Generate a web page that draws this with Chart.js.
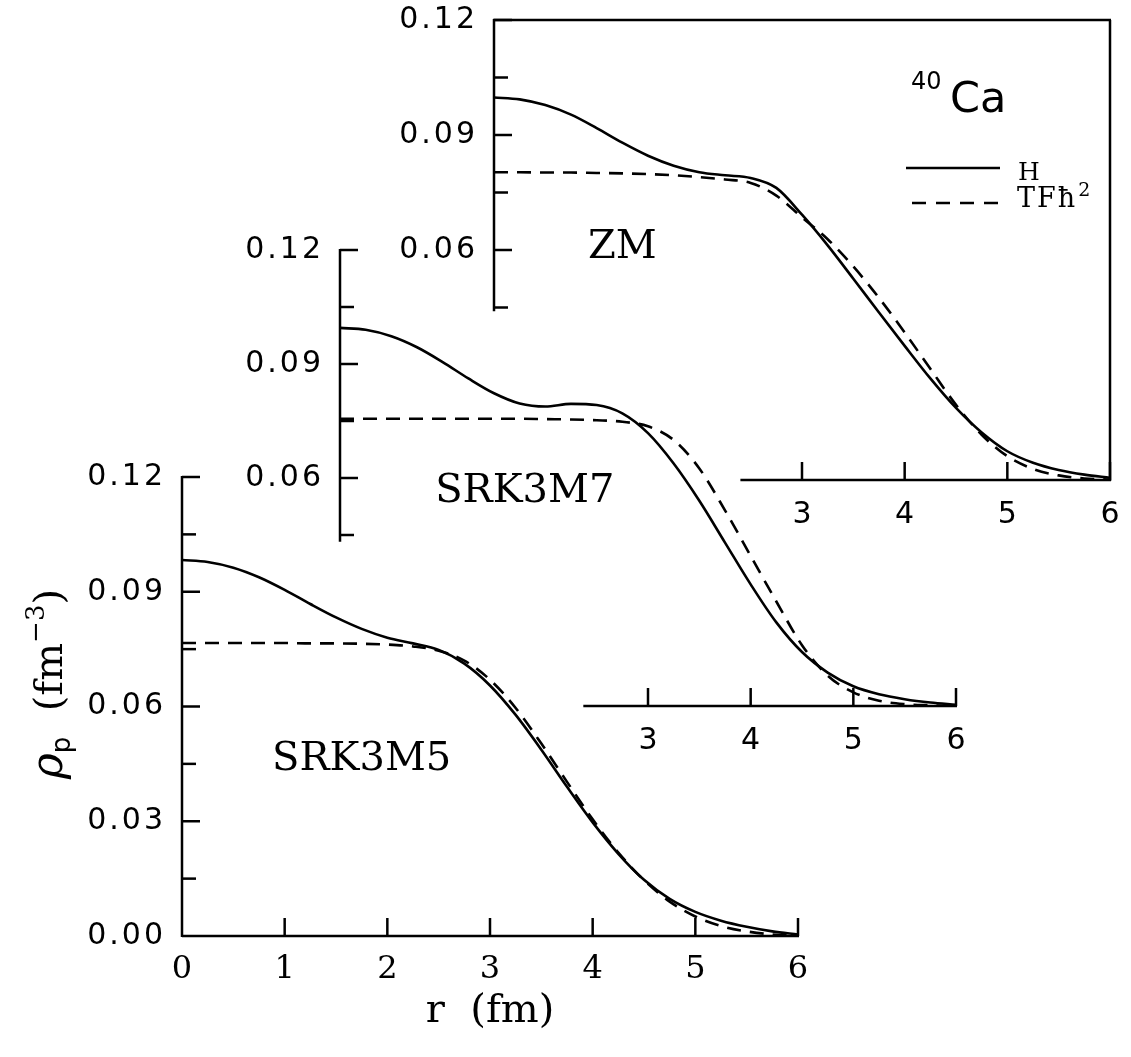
<!DOCTYPE html>
<html>
<head>
<meta charset="utf-8">
<script src="https://cdn.jsdelivr.net/npm/chart.js@4"></script>
<style>
  body { margin: 0; background: #fff; }
  #wrap { position: relative; width: 1131px; height: 1057px; }
  canvas { position: absolute; left: 0; top: 0; }
</style>
</head>
<body>
<div id="wrap">
  <canvas id="pBottom" width="1131" height="1057"></canvas>
  <canvas id="pMiddle" width="1131" height="1057"></canvas>
  <canvas id="pTop" width="1131" height="1057"></canvas>
</div>
<script>
// radius grid (fm)
const radius = [0, 0.25, 0.5, 0.75, 1, 1.25, 1.5, 1.75, 2, 2.25, 2.5, 2.75, 3,
                3.25, 3.5, 3.75, 4, 4.25, 4.5, 4.75, 5, 5.25, 5.5, 5.75, 6];

// SRK3M5 (bottom panel)
const m5H  = [0.0983, 0.0978, 0.0963, 0.0938, 0.0905, 0.0868, 0.0833, 0.0803, 0.0780, 0.0765, 0.0748, 0.0712, 0.0655,
              0.0578, 0.0487, 0.0390, 0.0297, 0.0215, 0.0147, 0.0097, 0.0063, 0.0040, 0.0024, 0.0012, 0.0004];
const m5TF = [0.0766, 0.0766, 0.0766, 0.0766, 0.0766, 0.0765, 0.0765, 0.0764, 0.0762, 0.0757, 0.0746, 0.0720, 0.0670,
              0.0596, 0.0503, 0.0403, 0.0305, 0.0218, 0.0146, 0.0090, 0.0051, 0.0026, 0.0012, 0.0004, 0.0001];

// SRK3M7 (middle panel)
const m7H  = [0.0995, 0.0990, 0.0973, 0.0944, 0.0905, 0.0862, 0.0823, 0.0796, 0.0788, 0.0795, 0.0792, 0.0770, 0.0718,
              0.0638, 0.0540, 0.0430, 0.0320, 0.0220, 0.0142, 0.0088, 0.0052, 0.0031, 0.0018, 0.0009, 0.0003];
const m7TF = [0.0756, 0.0756, 0.0756, 0.0756, 0.0756, 0.0756, 0.0756, 0.0756, 0.0755, 0.0754, 0.0752, 0.0748, 0.0736,
              0.0700, 0.0625, 0.0515, 0.0395, 0.0275, 0.0160, 0.0080, 0.0036, 0.0014, 0.0005, 0.0002, 0.0000];

// ZM (top panel)
const zmH  = [0.0998, 0.0993, 0.0978, 0.0953, 0.0918, 0.0880, 0.0846, 0.0820, 0.0803, 0.0795, 0.0788, 0.0762, 0.0692,
              0.0612, 0.0525, 0.0437, 0.0350, 0.0265, 0.0188, 0.0124, 0.0075, 0.0045, 0.0026, 0.0014, 0.0006];
const zmTF = [0.0803, 0.0803, 0.0802, 0.0802, 0.0801, 0.0800, 0.0798, 0.0795, 0.0790, 0.0784, 0.0775, 0.0742, 0.0685,
              0.0628, 0.0557, 0.0475, 0.0385, 0.0290, 0.0196, 0.0118, 0.0062, 0.0029, 0.0012, 0.0004, 0.0001];

// tick values and labels
const yMajor = [0, 0.03, 0.06, 0.09, 0.12];
const yMajorLabels = ['0.00', '0.03', '0.06', '0.09', '0.12'];
const yMinor = [0.015, 0.045, 0.075, 0.105];
const xMajor = [0, 1, 2, 3, 4, 5, 6];
const xMajorLabels = ['0', '1', '2', '3', '4', '5', '6'];

const W = 1131, H = 1057;
const SANS = '"DejaVu Sans", sans-serif';
const SERIF = '"DejaVu Serif", serif';

// draw a row of text pieces (for sub/superscripts)
function drawRuns(ctx, x, y, runs, align) {
  let total = 0;
  runs.forEach(r => { ctx.font = r.font; ctx.letterSpacing = r.ls || '0px'; total += ctx.measureText(r.t).width + (r.gap || 0); });
  let cx = align === 'center' ? x - total / 2 : x;
  ctx.textAlign = 'left';
  ctx.textBaseline = 'alphabetic';
  runs.forEach(r => {
    ctx.font = r.font;
    ctx.letterSpacing = r.ls || '0px';
    cx += r.gap || 0;
    ctx.fillText(r.t, cx, y + (r.dy || 0));
    cx += ctx.measureText(r.t).width;
  });
  ctx.letterSpacing = '0px';
}

function seg(ctx, x1, y1, x2, y2) {
  ctx.beginPath();
  ctx.moveTo(x1, y1);
  ctx.lineTo(x2, y2);
  ctx.stroke();
}

// axes, ticks and texts for one panel
function panelDeco(cfg) {
  return {
    id: 'deco',
    afterDraw(chart) {
      const ctx = chart.ctx;
      const px = v => chart.scales.x.getPixelForValue(v);
      const py = v => chart.scales.y.getPixelForValue(v);
      ctx.save();
      ctx.strokeStyle = '#000';
      ctx.fillStyle = '#000';
      ctx.lineWidth = 2.5;

      // y axis
      seg(ctx, px(0), py(cfg.yFrom) + 1, px(0), py(0.12) - 1);
      yMajor.forEach((v, i) => {
        if (v < cfg.yFrom - 1e-9) return;
        if (v > 0) seg(ctx, px(0), py(v), px(0) + 18, py(v));
        ctx.font = '30px ' + SANS;
        ctx.letterSpacing = '3px';
        ctx.textAlign = 'right';
        ctx.textBaseline = 'middle';
        ctx.fillText(yMajorLabels[i], px(0) - 16, py(v));
      });
      ctx.letterSpacing = '0px';
      yMinor.forEach(v => {
        if (v < cfg.yFrom) return;
        seg(ctx, px(0), py(v), px(0) + 14, py(v));
      });

      // x axis
      seg(ctx, px(cfg.xFrom), py(0), px(6) + 1, py(0));
      xMajor.forEach((v, i) => {
        if (v < cfg.xFrom) return;
        if (v > 0) seg(ctx, px(v), py(0), px(v), py(0) - 18);
        ctx.font = cfg.xFont;
        ctx.textAlign = 'center';
        ctx.textBaseline = 'top';
        ctx.fillText(xMajorLabels[i], px(v), py(0) + cfg.xLabelGap);
      });

      // frame (top panel)
      if (cfg.box) {
        seg(ctx, px(0) - 1, py(0.12), px(6) + 1, py(0.12));
        seg(ctx, px(6), py(0.12), px(6), py(0) + 1);
      }

      // panel name
      ctx.font = '40px ' + SERIF;
      ctx.textAlign = 'center';
      ctx.textBaseline = 'middle';
      ctx.fillText(cfg.name, px(cfg.nameAt[0]), py(cfg.nameAt[1]));

      if (cfg.extra) cfg.extra(ctx, px, py);
      ctx.restore();
    }
  };
}

function makePanel(id, hVals, tfVals, area, cfg) {
  const pts = vals => radius.map((r, i) => ({ x: r, y: vals[i] }));
  return new Chart(document.getElementById(id), {
    type: 'line',
    data: {
      datasets: [
        { label: 'H', data: pts(hVals), borderColor: '#000', borderWidth: 2.6,
          pointRadius: 0, fill: false, cubicInterpolationMode: 'monotone' },
        { label: 'TF', data: pts(tfVals), borderColor: '#000', borderWidth: 2.6,
          borderDash: [14, 9], pointRadius: 0, fill: false, cubicInterpolationMode: 'monotone' }
      ]
    },
    options: {
      responsive: false,
      animation: false,
      events: [],
      layout: { padding: { left: area.left, top: area.top, right: W - area.right, bottom: H - area.bottom } },
      plugins: { legend: { display: false }, tooltip: { enabled: false } },
      scales: {
        x: { type: 'linear', min: 0, max: 6, display: false },
        y: { type: 'linear', min: 0, max: 0.12, display: false }
      }
    },
    plugins: [panelDeco(cfg)]
  });
}

// bottom panel: SRK3M5, with the axis titles
makePanel('pBottom', m5H, m5TF, { left: 182, right: 798, top: 477, bottom: 936 }, {
  name: 'SRK3M5', nameAt: [1.75, 0.046], yFrom: 0, xFrom: 0,
  xFont: '32px ' + SERIF, xLabelGap: 18,
  extra(ctx, px, py) {
    drawRuns(ctx, px(3), 1022, [{ t: 'r  (fm)', font: '40px ' + SERIF }], 'center');
    ctx.save();
    ctx.translate(62, 684);
    ctx.rotate(-Math.PI / 2);
    drawRuns(ctx, 0, 0, [
      { t: 'ρ', font: 'italic 44px ' + SERIF },
      { t: 'p', font: '26px ' + SANS, dy: 8 },
      { t: '  (fm', font: '40px ' + SERIF },
      { t: '−3', font: '26px ' + SERIF, dy: -18 },
      { t: ')', font: '40px ' + SERIF }
    ], 'center');
    ctx.restore();
  }
});

// middle panel: SRK3M7
makePanel('pMiddle', m7H, m7TF, { left: 340, right: 956, top: 250, bottom: 706 }, {
  name: 'SRK3M7', nameAt: [1.8, 0.0563], yFrom: 0.0435, xFrom: 2.37,
  xFont: '30px ' + SANS, xLabelGap: 20
});

// top panel: ZM, with the legend
makePanel('pTop', zmH, zmTF, { left: 494, right: 1110, top: 20, bottom: 480 }, {
  name: 'ZM', nameAt: [1.25, 0.0605], yFrom: 0.0443, xFrom: 2.4, box: true,
  xFont: '30px ' + SANS, xLabelGap: 20,
  extra(ctx, px, py) {
    drawRuns(ctx, 911, 89, [{ t: '40', font: '24px ' + SANS }]);
    drawRuns(ctx, 950, 112, [{ t: 'Ca', font: '43px ' + SANS }]);
    ctx.lineWidth = 2.5;
    seg(ctx, 906, 168, 1000, 168);
    ctx.setLineDash([14, 10]);
    seg(ctx, 912, 203, 1000, 203);
    ctx.setLineDash([]);
    drawRuns(ctx, 1018, 180, [{ t: 'H', font: '25px ' + SERIF }]);
    drawRuns(ctx, 1017, 207, [
      { t: 'TFħ', font: '27px ' + SERIF, ls: '2px' },
      { t: '2', font: '19px ' + SERIF, dy: -11, gap: 1 }
    ]);
  }
});
</script>
</body>
</html>
